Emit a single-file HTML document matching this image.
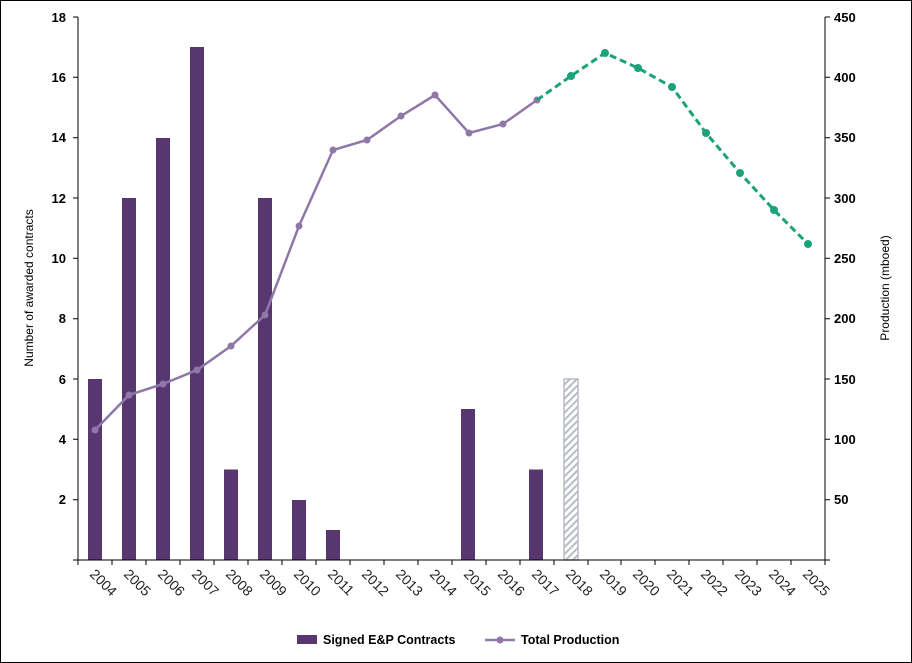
<!DOCTYPE html>
<html><head><style>body{margin:0;background:#fff}svg{display:block}</style></head><body>
<svg width="912" height="663" viewBox="0 0 912 663" xmlns="http://www.w3.org/2000/svg" font-family="Liberation Sans, sans-serif">
<defs><pattern id="h" width="5" height="5" patternUnits="userSpaceOnUse" patternTransform="rotate(45)"><rect width="5" height="5" fill="#fff"/><rect width="2" height="5" fill="#b8bcc4"/></pattern></defs>
<rect x="0.5" y="0.5" width="911" height="662" fill="#fff" stroke="#000"/>
<g fill="#583670">
<rect x="88" y="379" width="14" height="181"/>
<rect x="122" y="198" width="14" height="362"/>
<rect x="156" y="138" width="14" height="422"/>
<rect x="190" y="47" width="14" height="513"/>
<rect x="224" y="469.5" width="14" height="90.5"/>
<rect x="258" y="198" width="14" height="362"/>
<rect x="292" y="500" width="14" height="60"/>
<rect x="326" y="530" width="14" height="30"/>
<rect x="461" y="409" width="14" height="151"/>
<rect x="529" y="469.5" width="14" height="90.5"/>
</g>
<rect x="564" y="379" width="14" height="181" fill="url(#h)" stroke="#b8bcc4" stroke-width="1.5"/>
<g stroke="#000" stroke-width="1" fill="none">
<path d="M78 17V560M73 560H830M825 17V560"/>
<path d="M73 17H78M73 77.3H78M73 137.7H78M73 198H78M73 258.3H78M73 318.7H78M73 379H78M73 439.3H78M73 499.7H78"/>
<path d="M825 17H830M825 77.3H830M825 137.7H830M825 198H830M825 258.3H830M825 318.7H830M825 379H830M825 439.3H830M825 499.7H830"/>
<path d="M78 560v5M112 560v5M146 560v5M180 560v5M214 560v5M248 560v5M282 560v5M316 560v5M350 560v5M384 560v5M418 560v5M452 560v5M486 560v5M520 560v5M554 560v5M588 560v5M621 560v5M655 560v5M689 560v5M723 560v5M757 560v5M791 560v5M825 560v5"/>
</g>
<g font-size="13" font-weight="bold" text-anchor="end">
<text x="66" y="22">18</text><text x="66" y="82">16</text><text x="66" y="142">14</text><text x="66" y="203">12</text><text x="66" y="263">10</text><text x="66" y="323">8</text><text x="66" y="384">6</text><text x="66" y="444">4</text><text x="66" y="504">2</text>
</g>
<g font-size="13" font-weight="bold">
<text x="834" y="22">450</text><text x="834" y="82">400</text><text x="834" y="142">350</text><text x="834" y="203">300</text><text x="834" y="263">250</text><text x="834" y="323">200</text><text x="834" y="384">150</text><text x="834" y="444">100</text><text x="834" y="504">50</text>
</g>
<text transform="translate(33,288) rotate(-90)" font-size="12" text-anchor="middle">Number of awarded contracts</text>
<text transform="translate(889,288) rotate(-90)" font-size="12" text-anchor="middle">Production (mboed)</text>
<g font-size="14" fill="#222">
<text transform="translate(89,575) rotate(45)">2004</text><text transform="translate(123,575) rotate(45)">2005</text><text transform="translate(157,575) rotate(45)">2006</text><text transform="translate(191,575) rotate(45)">2007</text><text transform="translate(225,575) rotate(45)">2008</text><text transform="translate(259,575) rotate(45)">2009</text><text transform="translate(293,575) rotate(45)">2010</text><text transform="translate(327,575) rotate(45)">2011</text><text transform="translate(361,575) rotate(45)">2012</text><text transform="translate(395,575) rotate(45)">2013</text><text transform="translate(429,575) rotate(45)">2014</text><text transform="translate(463,575) rotate(45)">2015</text><text transform="translate(497,575) rotate(45)">2016</text><text transform="translate(531,575) rotate(45)">2017</text><text transform="translate(565,575) rotate(45)">2018</text><text transform="translate(599,575) rotate(45)">2019</text><text transform="translate(632,575) rotate(45)">2020</text><text transform="translate(666,575) rotate(45)">2021</text><text transform="translate(700,575) rotate(45)">2022</text><text transform="translate(734,575) rotate(45)">2023</text><text transform="translate(768,575) rotate(45)">2024</text><text transform="translate(802,575) rotate(45)">2025</text>
</g>
<polyline fill="none" stroke="#8f78a8" stroke-width="2.5" points="95,430 129,395 163,384 197,370 231,346 265,315 299,226 333,150 367,140 401,116 435,95 469,133 503,124 537,100"/>
<g fill="#8f78a8"><circle cx="95" cy="430" r="3.5"/><circle cx="129" cy="395" r="3.5"/><circle cx="163" cy="384" r="3.5"/><circle cx="197" cy="370" r="3.5"/><circle cx="231" cy="346" r="3.5"/><circle cx="265" cy="315" r="3.5"/><circle cx="299" cy="226" r="3.5"/><circle cx="333" cy="150" r="3.5"/><circle cx="367" cy="140" r="3.5"/><circle cx="401" cy="116" r="3.5"/><circle cx="435" cy="95" r="3.5"/><circle cx="469" cy="133" r="3.5"/><circle cx="503" cy="124" r="3.5"/><circle cx="537" cy="100" r="3.5"/></g>
<polyline fill="none" stroke="#1aa37a" stroke-width="3" stroke-dasharray="7,4" points="537,100 571,76 605,53 638,68 672,87 706,133 740,173 774,210 808,244"/>
<g fill="#1aa37a"><circle cx="571" cy="76" r="4"/><circle cx="605" cy="53" r="4"/><circle cx="638" cy="68" r="4"/><circle cx="672" cy="87" r="4"/><circle cx="706" cy="133" r="4"/><circle cx="740" cy="173" r="4"/><circle cx="774" cy="210" r="4"/><circle cx="808" cy="244" r="4"/></g>
<rect x="297" y="635" width="20" height="9" fill="#583670"/>
<text x="323" y="644" font-size="12.5" font-weight="bold">Signed E&amp;P Contracts</text>
<line x1="485" y1="640" x2="515" y2="640" stroke="#8f78a8" stroke-width="2.5"/>
<circle cx="500" cy="640" r="3.5" fill="#8f78a8"/>
<text x="521" y="644" font-size="12.5" font-weight="bold">Total Production</text>
</svg>
</body></html>
